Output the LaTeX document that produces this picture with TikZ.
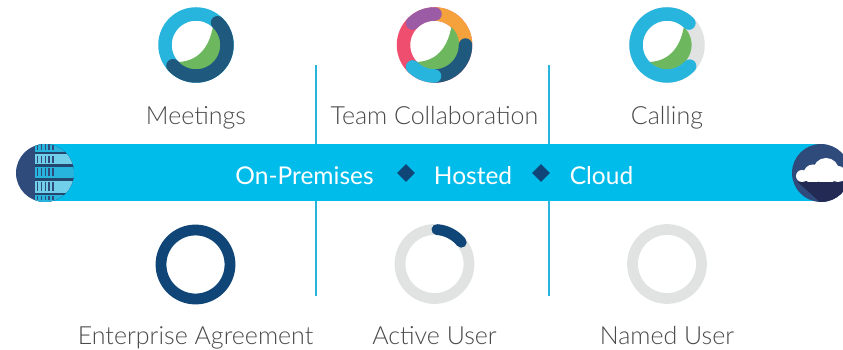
\documentclass[tikz,border=0pt]{standalone}
\usepackage{fontspec}
\setmainfont{Lato}[UprightFont=* Light]
\newfontfamily\barfont{Lato}
\usetikzlibrary{positioning, shapes.geometric}
\definecolor{skyblue}{HTML}{27B5DE}
\definecolor{barblue}{HTML}{00BCEB}
\definecolor{deepblue}{HTML}{1F5A7E}
\definecolor{navyblue}{HTML}{0F4577}
\definecolor{leafgreen}{HTML}{6DB85E}
\definecolor{paleg}{HTML}{E1E3E3}
\definecolor{pinkred}{HTML}{F04E6E}
\definecolor{amber}{HTML}{F5A23C}
\definecolor{plum}{HTML}{9C5BA5}
\definecolor{slateblue}{HTML}{2F4B7C}
\definecolor{inkblue}{HTML}{232B55}
\definecolor{labelgrey}{HTML}{4A4A4A}

% one piece of a ring: node, colour, radius, width, start, end
\newcommand{\ringarc}[6]{\draw[#2, line width=#4pt] ([shift={(#5:#3)}]#1.center) arc[start angle=#5, end angle=#6, radius=#3];}
\newcommand{\crescent}[1]{\fill[leafgreen] ([shift={(16.7,17.3)}]#1.center) .. controls ([shift={(14,3)}]#1.center) and ([shift={(6,-16)}]#1.center) .. ([shift={(-17.7,-17)}]#1.center) arc[start angle=224, end angle=405, radius=24.6] -- cycle;}

\begin{document}
\begin{tikzpicture}[x=1pt,y=1pt,node distance=73.5pt,on grid,
  ring/.style={circle,draw=#1,line width=13.5pt,minimum size=62pt,inner sep=0pt,outer sep=0pt},
  lowring/.style={circle,draw=#1,line width=10.8pt,minimum size=69pt,inner sep=0pt,outer sep=0pt},
  caption/.style={text=labelgrey,font=\fontsize{25}{27}\selectfont,text height=18pt,text depth=5pt,inner sep=0pt},
  bartext/.style={text=white,font=\barfont\fontsize{24.5}{27}\selectfont,text height=18pt,text depth=5pt,inner sep=0pt,yshift=-5.5pt},
  stepmark/.style={diamond,fill=navyblue,minimum size=18pt,inner sep=0pt},
  divider/.style={draw=skyblue,line width=2pt}]

\fill[white] (0,0) rectangle (843,350);
\useasboundingbox (0,0) rectangle (843,350);

% dividers
\coordinate (div1top) at (316,285);
\coordinate (div1bot) at (316,54);
\coordinate (div2top) at (549,285);
\coordinate (div2bot) at (549,54);
\path[divider] (div2top) -- (div2bot);
\path[divider] (div1top) -- (div1bot);

% top row
\node[ring=skyblue] (meet) at (196,305) {};
\node[ring=pinkred] (team) at (434.5,305) {};
\node[ring=paleg] (call) at (667,305) {};
\crescent{meet}
\ringarc{meet}{deepblue,line cap=round}{31}{13.5}{222}{406}

\ringarc{team}{amber}{31}{13.5}{0}{90}
\crescent{team}
\ringarc{team}{deepblue,line cap=round}{31}{13.5}{270}{360}
\ringarc{team}{plum,line cap=round}{31}{13.5}{89}{135}
\ringarc{team}{skyblue,line cap=round}{31}{13.5}{225}{270}

\crescent{call}
\ringarc{call}{skyblue,line cap=round}{31}{13.5}{45}{317}

\node[caption] (meetlabel) [below =of meet] {Meetings};
\node[caption] (teamlabel) [below =of team] {Team Collaboration};
\node[caption] (calllabel) [below =of call] {Calling};

% band
\node[fill=barblue,minimum width=775pt,minimum height=57pt,inner sep=0pt] (band) at (432.5,177) {};
\node[stepmark] (mark1) at (406,177) {};
\node[stepmark] (mark2) at (541,177) {};
\node[bartext] (hosted) [right =67pt of mark1] {Hosted};
\node[bartext] (onprem) [left =101.5pt of mark1] {On-Premises};
\node[bartext] (cloud) [right =60.5pt of mark2] {Cloud};

% server badge
\node[circle,fill=slateblue,minimum size=58pt,inner sep=0pt] (server) at (45,177) {};
\begin{scope}
  \clip (server) circle (29);
  \fill[inkblue!80!skyblue] (34.5,148) rectangle (76,207);
  \foreach \ya/\yb/\c in {198/207/skyblue, 185.5/195.5/skyblue!65!white, 172/183/skyblue, 157/169/skyblue!65!white, 148/155/skyblue}{
    \fill[\c] (34.5,\ya) rectangle (76,\yb);
    \foreach \sx in {37,40.8,44.6,48.4,52.2}
      \fill[slateblue] (\sx,\ya+1.5) rectangle ++(1.4,\yb-\ya-3);
  }
\end{scope}

% cloud badge
\node[circle,fill=slateblue,minimum size=58pt,inner sep=0pt] (cloudbadge) at (821,177) {};
\begin{scope}
  \clip (cloudbadge) circle (29);
  \fill[inkblue] (797,168.5) -- (820,148) -- (850,148) -- (850,168.5) -- cycle;
  \clip (780,168.5) rectangle (860,200);
  \fill[white] (802,174) circle (6) (813,176) circle (9.5) (826,179) circle (13) (838,176) circle (8) (846,175) circle (7);
  \fill[white] (802,168.5) rectangle (850,175);
\end{scope}

% bottom row
\node[lowring=navyblue] (agree) at (195.5,85.5) {};
\node[lowring=paleg] (active) at (434.5,86) {};
\node[lowring=paleg] (named) at (667,86) {};
\ringarc{active}{navyblue,line cap=round}{34.5}{10.8}{39}{86}

\node[caption] (agreelabel) [below =74pt of agree] {Enterprise Agreement};
\node[caption] (activelabel) [below =74.5pt of active] {Active User};
\node[caption] (namedlabel) [below =74.5pt of named] {Named User};

\end{tikzpicture}
\end{document}
